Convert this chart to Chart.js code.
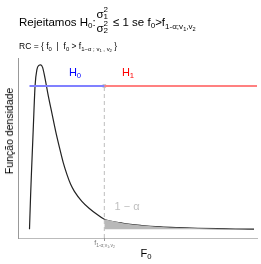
<!DOCTYPE html>
<html>
<head>
<meta charset="utf-8">
<script src="https://cdn.jsdelivr.net/npm/chart.js@4/dist/chart.umd.min.js"></script>
<style>
  body { margin: 0; background: #fff; }
  #wrap { position: relative; width: 261px; height: 264px; overflow: hidden; font-family: "Liberation Sans", Arial, sans-serif; }
  #chart { position: absolute; left: 0; top: 0; }
  .lbl { position: absolute; white-space: nowrap; }
  .lbl sub { font-size: 0.7em; vertical-align: -0.3em; line-height: 0; }
  .lbl sup { font-size: 0.7em; vertical-align: 0.45em; line-height: 0; }
</style>
</head>
<body>
<div id="wrap">
  <canvas id="chart" width="261" height="264"></canvas>
</div>
<script>
// values
const fValues = [0, 0.03, 0.05, 0.1, 0.15, 0.2, 0.25, 0.3, 0.35, 0.4, 0.5, 0.6, 0.7, 0.8, 0.9, 1.0, 1.1, 1.2, 1.4, 1.6, 1.8, 2.0, 2.5, 3, 3.5, 4, 4.5, 5, 5.5, 6];
const density = [0, 0.17, 0.27, 0.50, 0.72, 0.80, 0.82, 0.823, 0.81, 0.77, 0.67, 0.58, 0.49, 0.41, 0.335, 0.275, 0.225, 0.19, 0.14, 0.104, 0.075, 0.05, 0.03, 0.019, 0.012, 0.008, 0.005, 0.003, 0.0015, 0.0005];
const critF = 2.0;      // f(1-alpha; v1, v2)
const hLevel = 0.717;   // height of the H0 / H1 line
const xRange = [-0.307, 6.08];
const yRange = [-0.0435, 0.857];

const curve = fValues.map((f, i) => ({ x: f, y: density[i] }));
const tail = curve.filter(p => p.x >= critF);

function label(html, x, baseline, size, color, align, rotate) {
  const d = document.createElement('div');
  d.className = 'lbl';
  d.innerHTML = html;
  d.style.fontSize = size + 'px';
  d.style.lineHeight = size + 'px';
  d.style.color = color || '#000';
  d.style.left = x + 'px';
  d.style.top = (baseline - 0.8465 * size) + 'px';
  if (rotate) {
    d.style.transformOrigin = '0 0';
    d.style.transform = 'rotate(-90deg) translate(-50%, 0)';
  } else if (align === 'center') {
    d.style.transform = 'translateX(-50%)';
  }
  document.getElementById('wrap').appendChild(d);
}

const critTick = {
  id: 'critTick',
  afterDraw(chart) {
    const ctx = chart.ctx;
    const px = chart.scales.x.getPixelForValue(critF);
    const b = chart.chartArea.bottom;
    ctx.save();
    ctx.strokeStyle = '#999';
    ctx.lineWidth = 1;
    ctx.beginPath();
    ctx.moveTo(Math.round(px) + 0.5, b);
    ctx.lineTo(Math.round(px) + 0.5, b + 3);
    ctx.stroke();
    ctx.restore();
  }
};

new Chart(document.getElementById('chart'), {
  type: 'line',
  data: {
    datasets: [
      {
        data: tail,
        fill: 'origin',
        backgroundColor: '#b8b8b8',
        borderWidth: 0,
        pointRadius: 0,
        cubicInterpolationMode: 'monotone'
      },
      {
        data: [{ x: 0, y: hLevel }, { x: critF, y: hLevel }],
        borderColor: '#8080ff',
        borderWidth: 2,
        pointRadius: 0
      },
      {
        data: [{ x: critF, y: hLevel }, { x: xRange[1], y: hLevel }],
        borderColor: '#ff8080',
        borderWidth: 2,
        pointRadius: 0
      },
      {
        data: [{ x: critF, y: yRange[0] }, { x: critF, y: hLevel }],
        borderColor: '#bdbdbd',
        borderWidth: 1,
        borderDash: [4, 3],
        pointRadius: 0
      },
      {
        data: curve,
        borderColor: '#222',
        borderWidth: 1.2,
        pointRadius: 0,
        cubicInterpolationMode: 'monotone'
      },
      {
        data: [{ x: critF, y: hLevel }],
        pointStyle: 'rect',
        pointRadius: 2.5,
        backgroundColor: '#bdbdbd',
        borderWidth: 0,
        showLine: false
      }
    ]
  },
  options: {
    responsive: false,
    animation: false,
    devicePixelRatio: 1,
    layout: { padding: { left: 18, right: 3, top: 58, bottom: 26 } },
    plugins: { legend: { display: false }, tooltip: { enabled: false } },
    scales: {
      x: {
        type: 'linear', min: xRange[0], max: xRange[1],
        ticks: { display: false, padding: 0 },
        grid: { display: false, drawTicks: false, tickLength: 0 },
        border: { display: true, color: '#bbb', width: 1 }
      },
      y: {
        min: yRange[0], max: yRange[1],
        ticks: { display: false, padding: 0 },
        grid: { display: false, drawTicks: false, tickLength: 0 },
        border: { display: true, color: '#999', width: 1 }
      }
    }
  },
  plugins: [critTick]
});

// text
label('Rejeitamos H<sub>0</sub>:', 19, 27, 11.5);
label('σ', 96.5, 19, 11.5);
label('2', 103.5, 13, 8);
label('1', 103.5, 19.5, 8);
label('σ', 96.5, 33, 11.5);
label('2', 103.5, 27, 8);
label('2', 103.5, 34, 8);
label('≤ 1 se f<sub>0</sub>&gt;f<sub>1-α;v<sub>1</sub>,v<sub>2</sub></sub>', 113, 27, 11.5);
label('RC = { f<sub>0</sub> &nbsp;|&nbsp; f<sub>0</sub> &gt; f<sub>1−α ; v<sub>1</sub> , v<sub>2</sub></sub> }', 19, 49, 8.5);
label('H<sub>0</sub>', 75, 76, 11, '#0000ff', 'center');
label('H<sub>1</sub>', 128, 76, 11, '#ff0000', 'center');
label('1 − α', 127, 210, 11, '#c0c0c0', 'center');
label('f<sub>1-α;v<sub>1</sub>,v<sub>2</sub></sub>', 104.5, 245, 7, '#777', 'center');
label('F<sub>0</sub>', 146, 257, 11, '#000', 'center');
label('Função densidade', 4, 140, 10.5, '#000', 'center', true);
</script>
</body>
</html>
